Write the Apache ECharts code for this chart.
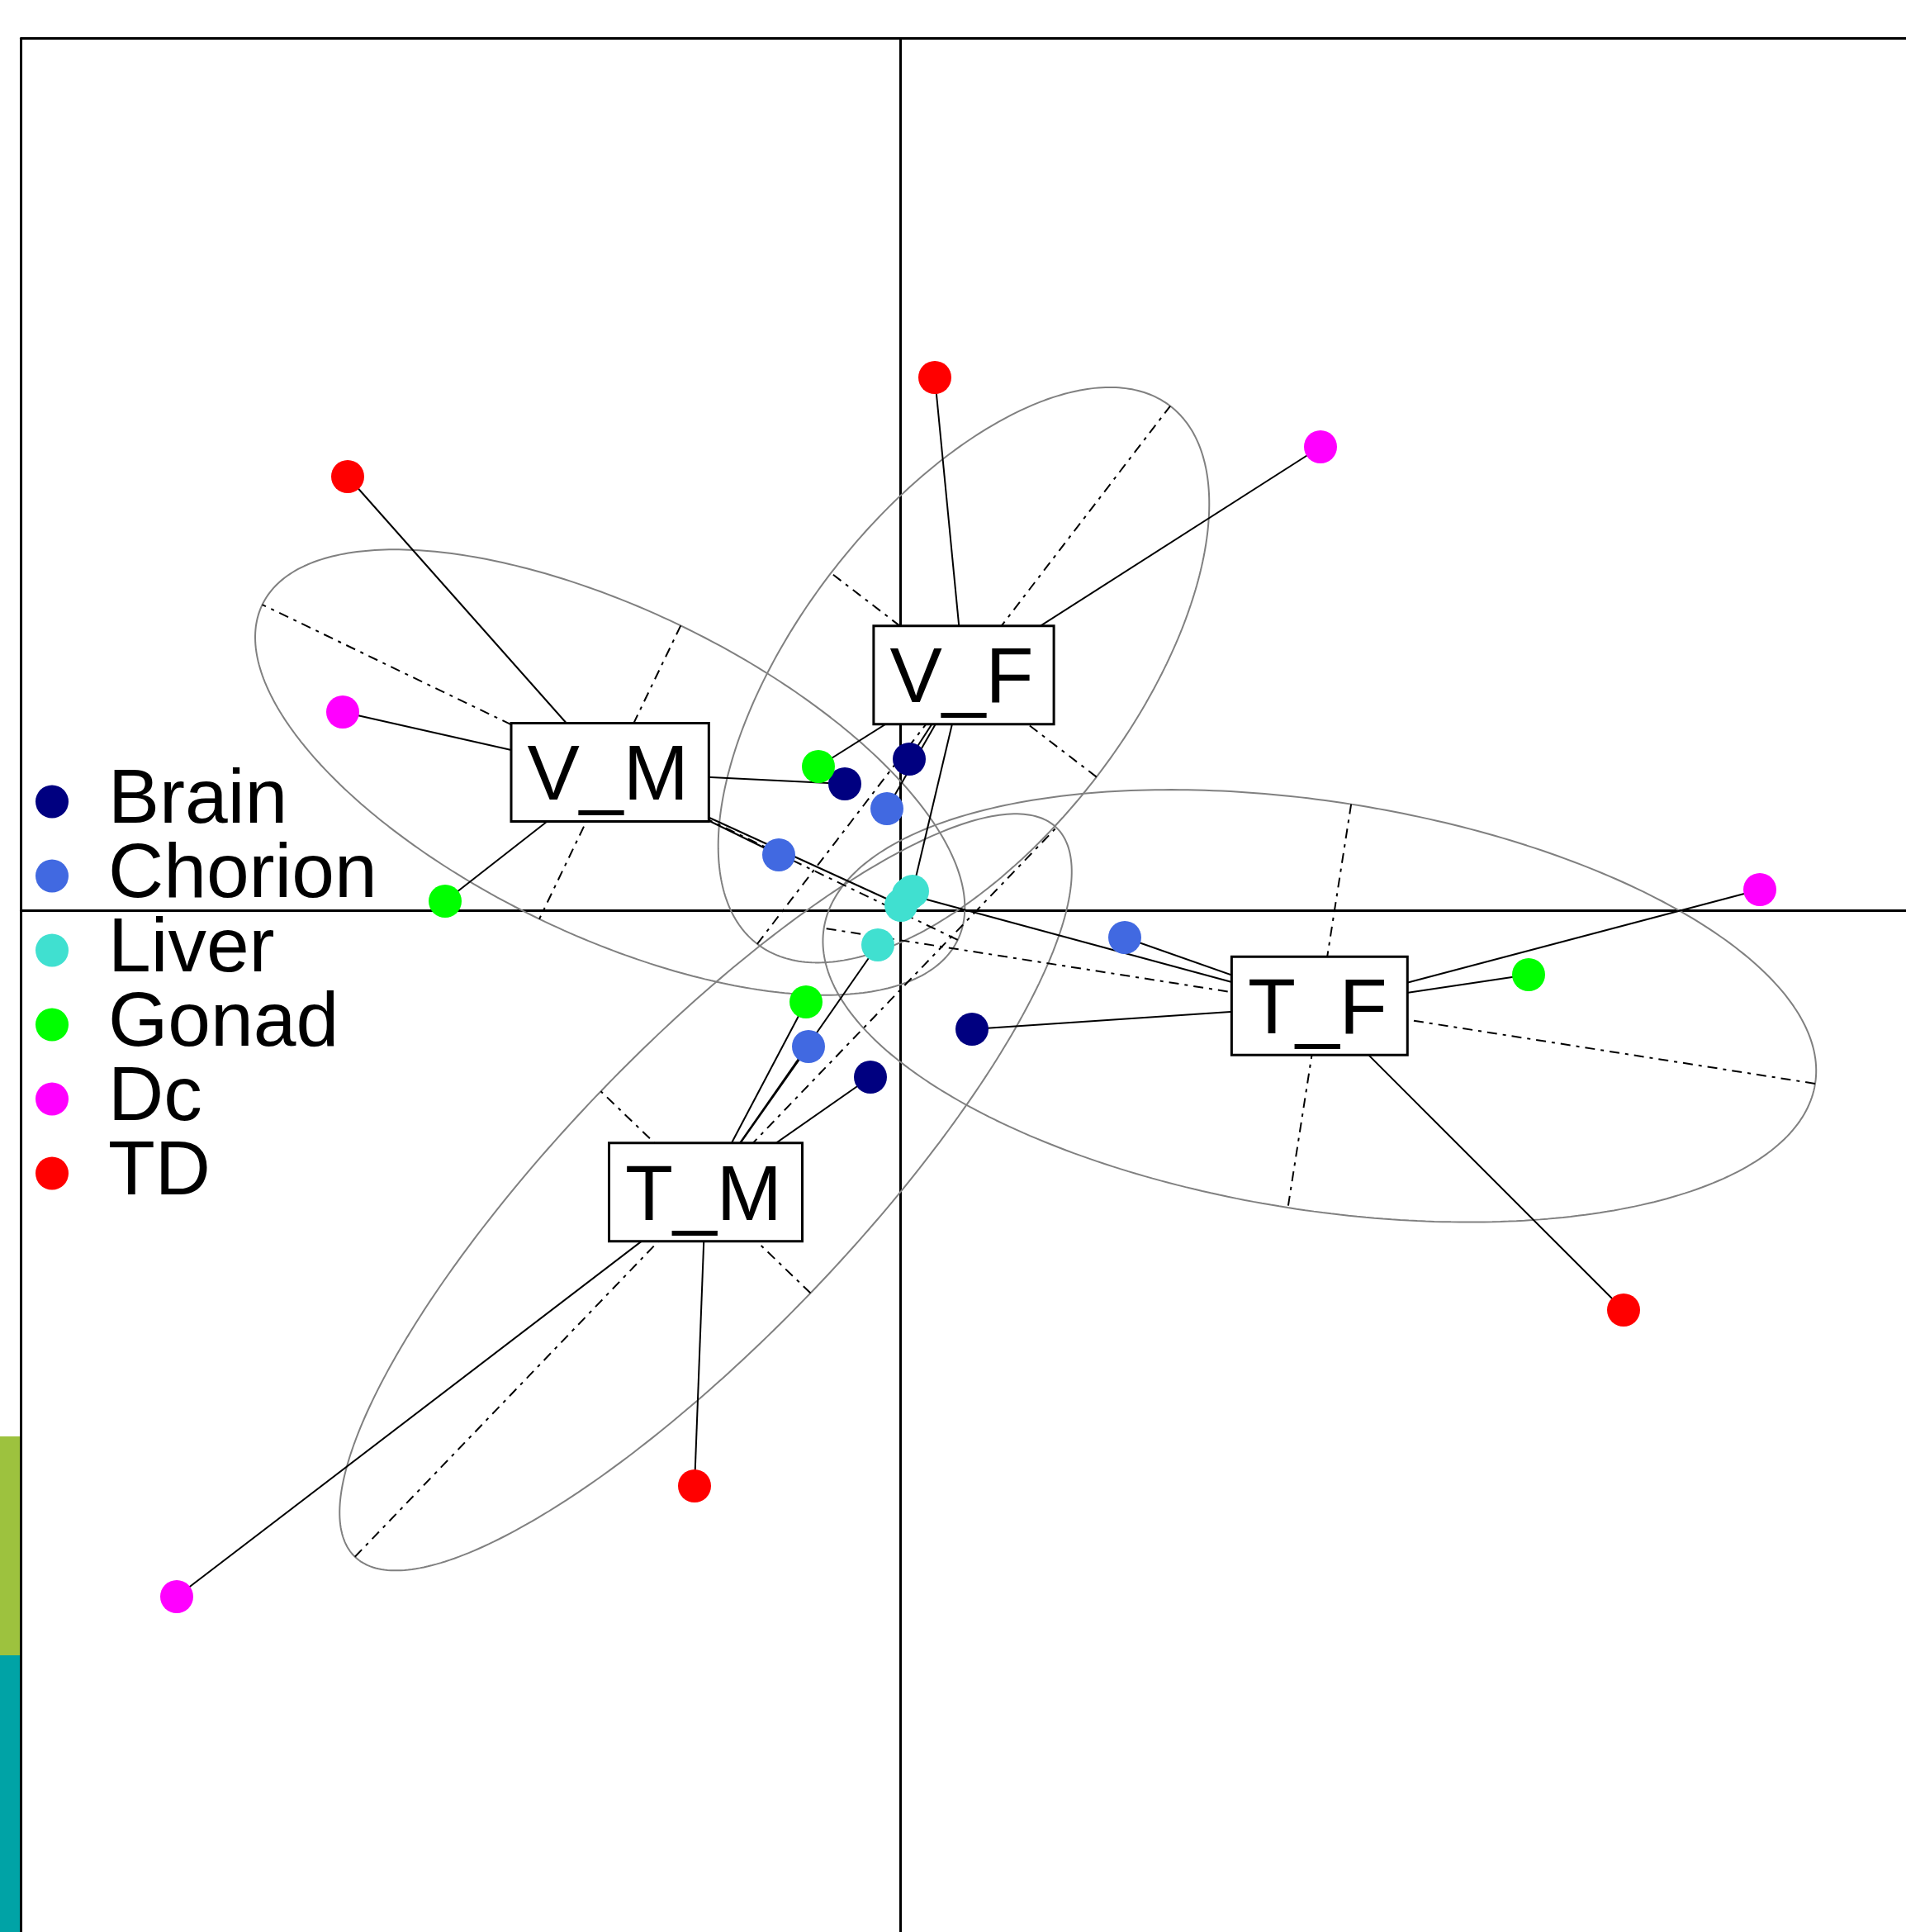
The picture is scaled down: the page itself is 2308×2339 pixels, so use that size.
<!DOCTYPE html>
<html>
<head>
<meta charset="utf-8">
<script src="https://cdn.jsdelivr.net/npm/echarts@6/dist/echarts.min.js"></script>
<style>
  html, body { margin: 0; padding: 0; background: #fff; }
  #chart { width: 2308px; height: 2339px; }
</style>
</head>
<body>
<div id="chart"></div>
<script>
// tissues, in legend order, with their colours
const tissues = ['Brain', 'Chorion', 'Liver', 'Gonad', 'Dc', 'TD']
const tissueColors = ['#000080', '#4169E1', '#40E0D0', '#00FF00', '#FF00FF', '#FF0000']

// groups (class labels)
const groups = ['V_F', 'V_M', 'T_F', 'T_M']

// factor scores of each tissue inside a group, same order as tissues
const scoresV_F = [[0.021, 0.367], [-0.033, 0.247], [0.029, 0.047], [-0.199, 0.349], [1.017, 1.123], [0.083, 1.291]]
const scoresV_M = [[-0.135, 0.307], [-0.295, 0.135], [0.001, 0.013], [-1.103, 0.023], [-1.351, 0.481], [-1.339, 1.051]]
const scoresT_F = [[0.173, -0.287], [0.543, -0.065], [0.019, 0.039], [1.521, -0.155], [2.081, 0.051], [1.751, -0.967]]
const scoresT_M = [[-0.073, -0.403], [-0.223, -0.329], [-0.055, -0.083], [-0.229, -0.221], [-1.753, -1.661], [-0.499, -1.393]]

// visible window of the factorial plane
const xRange = [-2.13, 2.435]
const yRange = [-2.473, 2.112]

const groupScores = [scoresV_F, scoresV_M, scoresT_F, scoresT_M]
const cellipse = 1.5
const fontFamily = 'Liberation Sans, Arial, sans-serif'

// centre of gravity and inertia ellipse of one class (as ade4 s.class)
function classStats (pts) {
  const n = pts.length
  let mx = 0, my = 0
  pts.forEach(p => { mx += p[0]; my += p[1] })
  mx /= n; my /= n
  let vx = 0, vy = 0, cxy = 0
  pts.forEach(p => {
    vx += (p[0] - mx) ** 2
    vy += (p[1] - my) ** 2
    cxy += (p[0] - mx) * (p[1] - my)
  })
  vx /= n; vy /= n; cxy /= n
  const tr = vx + vy
  const det = vx * vy - cxy * cxy
  const d = Math.sqrt(Math.max(tr * tr / 4 - det, 0))
  const l1 = tr / 2 + d
  const l2 = Math.max(tr / 2 - d, 0)
  const theta = Math.atan2(l1 - vx, cxy)
  return { mx, my, a: cellipse * Math.sqrt(l1), b: cellipse * Math.sqrt(l2), theta }
}

const stats = groupScores.map(classStats)

const ellipseSeries = stats.map((s, i) => {
  const c = Math.cos(s.theta), sn = Math.sin(s.theta)
  const pts = []
  for (let k = 0; k <= 360; k++) {
    const t = k / 360 * Math.PI * 2
    pts.push([
      s.mx + s.a * Math.cos(t) * c - s.b * Math.sin(t) * sn,
      s.my + s.a * Math.cos(t) * sn + s.b * Math.sin(t) * c
    ])
  }
  return {
    name: 'ellipse-' + groups[i],
    type: 'line',
    data: pts,
    showSymbol: false,
    symbol: 'none',
    silent: true,
    z: 1,
    lineStyle: { color: '#808080', width: 2 }
  }
})

// ellipse axes
const axisLines = []
stats.forEach(s => {
  const c = Math.cos(s.theta), sn = Math.sin(s.theta)
  axisLines.push({ coords: [[s.mx - s.a * c, s.my - s.a * sn], [s.mx + s.a * c, s.my + s.a * sn]] })
  axisLines.push({ coords: [[s.mx + s.b * sn, s.my - s.b * c], [s.mx - s.b * sn, s.my + s.b * c]] })
})

// star: each point linked to its class centre
const starLines = []
groupScores.forEach((pts, i) => {
  pts.forEach(p => {
    starLines.push({ coords: [[stats[i].mx, stats[i].my], p] })
  })
})

const pointSeries = tissues.map((t, j) => ({
  name: t,
  type: 'scatter',
  data: groupScores.map(pts => pts[j]),
  symbol: 'circle',
  symbolSize: 40,
  z: 5,
  itemStyle: { color: tissueColors[j], opacity: 1 }
}))

const hidden = { axisTick: { show: false }, axisLabel: { show: false }, splitLine: { show: false } }
const blackLine = { color: '#000', width: 3 }

// label box: padding top/bottom plus line height
const boxPad = [17, 23, 3, 18]
const boxLine = 96

const chart = echarts.init(document.getElementById('chart'), null, { renderer: 'canvas' })

chart.setOption({
  animation: false,
  backgroundColor: '#fff',
  grid: {
    left: 25.5,
    top: 46.5,
    right: 0,
    bottom: 0,
    show: false
  },
  xAxis: [
    // main axis, its line is the horizontal origin line
    { type: 'value', min: xRange[0], max: xRange[1], axisLine: { show: true, onZero: true, lineStyle: blackLine }, ...hidden },
    // top edge of the frame
    { type: 'value', position: 'top', min: xRange[0], max: xRange[1], axisLine: { show: true, onZero: false, lineStyle: blackLine }, ...hidden }
  ],
  yAxis: [
    { type: 'value', min: yRange[0], max: yRange[1], axisLine: { show: true, onZero: true, lineStyle: blackLine }, ...hidden },
    // left edge of the frame
    { type: 'value', position: 'left', min: yRange[0], max: yRange[1], axisLine: { show: true, onZero: false, lineStyle: blackLine }, ...hidden }
  ],
  legend: {
    orient: 'vertical',
    left: 43,
    top: 924,
    padding: 0,
    itemGap: -3,
    itemWidth: 40,
    itemHeight: 40,
    icon: 'circle',
    selectedMode: false,
    data: tissues,
    textStyle: {
      fontFamily,
      fontSize: 93,
      color: '#000',
      padding: [0, 0, 0, 43]
    }
  },
  graphic: [
    { type: 'rect', left: 0, top: 1739, shape: { width: 24, height: 265 }, style: { fill: '#9DC23E' }, silent: true },
    { type: 'rect', left: 0, top: 2004, shape: { width: 24, height: 335 }, style: { fill: '#00A3A6' }, silent: true }
  ],
  series: [
    ...ellipseSeries,
    {
      name: 'ellipse-axes',
      type: 'lines',
      coordinateSystem: 'cartesian2d',
      silent: true,
      z: 2,
      lineStyle: { color: '#000', width: 2, type: [12, 7, 4, 7], opacity: 1 },
      data: axisLines
    },
    {
      name: 'star',
      type: 'lines',
      coordinateSystem: 'cartesian2d',
      silent: true,
      z: 3,
      lineStyle: { color: '#000', width: 2, type: 'solid', opacity: 1 },
      data: starLines
    },
    ...pointSeries,
    {
      name: 'labels',
      type: 'scatter',
      symbolSize: 1,
      z: 10,
      silent: true,
      itemStyle: { color: 'rgba(0,0,0,0)', opacity: 1 },
      data: stats.map((s, i) => ({ name: groups[i], value: [s.mx, s.my] })),
      label: {
        show: true,
        position: 'inside',
        verticalAlign: 'top',
        offset: [0, -(boxPad[0] + boxLine + boxPad[2]) / 2],
        formatter: '{b}',
        fontFamily,
        fontSize: 95,
        lineHeight: boxLine,
        color: '#000',
        opacity: 1,
        backgroundColor: '#fff',
        borderColor: '#000',
        borderWidth: 3,
        padding: boxPad
      }
    }
  ]
})
</script>
</body>
</html>
